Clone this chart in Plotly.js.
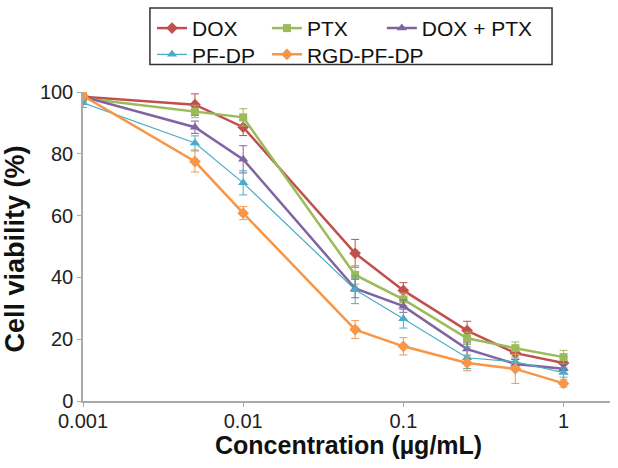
<!DOCTYPE html>
<html>
<head>
<meta charset="utf-8">
<script src="https://cdn.plot.ly/plotly-3.0.1.min.js"></script>
<style>
  body { margin: 0; background: #fff; }
  #plot { width: 618px; height: 468px; }
</style>
</head>
<body>
<div id="plot"></div>
<script>
let conc = [0.001, 0.005, 0.01, 0.05, 0.1, 0.25, 0.5, 1];

let dox = [98.5, 95.9, 88.6, 47.8, 35.8, 22.8, 15.5, 12.3];
let doxErr = [1, 3.5, 2.7, 4.5, 2.5, 3, 2, 2];

let ptx = [98, 93.7, 91.8, 40.8, 32.9, 20.3, 17.1, 14.2];
let ptxErr = [1, 2, 2.8, 3, 2, 2, 2, 2.2];

let doxPtx = [98.5, 88.6, 78.2, 36.4, 30.7, 16.8, 12, 10.4];
let doxPtxErr = [1, 2, 4.4, 3, 2, 2, 1.5, 1.5];

let pfdp = [96.5, 83.5, 70.6, 36, 26.6, 14, 12.7, 9.2];
let pfdpErr = [1.5, 2.3, 3.9, 4.5, 3, 3.5, 1.5, 1.5];

let rgd = [98.8, 77.5, 60.8, 23.1, 17.7, 12.3, 10.4, 5.7];
let rgdErr = [1, 3.4, 2.1, 2.9, 2.8, 2.5, 4.7, 1.2];

let xTicks = [0.001, 0.01, 0.1, 1];
let xTickText = ['0.001', '0.01', '0.1', '1'];

function series(name, y, err, color, symbol, size, width, legend) {
    return {
        x: conc,
        y: y,
        name: name,
        type: 'scatter',
        mode: 'lines+markers',
        legend: legend,
        line: { color: color, width: width },
        marker: { color: color, symbol: symbol, size: size },
        error_y: { type: 'data', array: err, visible: true, color: color, thickness: 1, width: 4 }
    };
}

let traces = [
    series('DOX', dox, doxErr, '#c0504d', 'diamond', 9, 2.5, 'legend'),
    series('PTX', ptx, ptxErr, '#9bbb59', 'square', 8, 2.5, 'legend2'),
    series('DOX + PTX', doxPtx, doxPtxErr, '#8064a2', 'triangle-up', 9, 2.5, 'legend3'),
    series('PF-DP', pfdp, pfdpErr, '#4bacc6', 'triangle-up', 9, 1.2, 'legend4'),
    series('RGD-PF-DP', rgd, rgdErr, '#f79646', 'diamond', 9, 2.5, 'legend5')
];

let fontFamily = 'Arial, Liberation Sans, sans-serif';

// one legend box per entry so the columns line up like the original
function legendAt(x, y) {
    return {
        orientation: 'h',
        x: x, xanchor: 'left',
        y: y, yanchor: 'top',
        font: { family: fontFamily, size: 21, color: '#111' },
        bgcolor: 'rgba(0,0,0,0)',
        borderwidth: 0,
        itemwidth: 30
    };
}

let axisStyle = {
    showgrid: false,
    zeroline: false,
    showline: true,
    linecolor: '#aaa',
    linewidth: 1.5,
    ticks: 'outside',
    ticklen: 4,
    tickcolor: '#aaa',
    tickfont: { size: 20, color: '#222' }
};

let layout = {
    width: 618,
    height: 468,
    margin: { l: 83, r: 8, t: 85, b: 67 },
    paper_bgcolor: '#fff',
    plot_bgcolor: '#fff',
    showlegend: true,
    font: { family: fontFamily, size: 20, color: '#222' },
    xaxis: Object.assign({
        type: 'log',
        range: [-3, 0.29],
        tickvals: xTicks,
        ticktext: xTickText,
        ticklabelstandoff: -3
    }, axisStyle),
    yaxis: Object.assign({
        range: [0, 100],
        dtick: 20
    }, axisStyle),
    legend: legendAt(0.131, 1.272),
    legend2: legendAt(0.349, 1.272),
    legend3: legendAt(0.567, 1.272),
    legend4: legendAt(0.131, 1.187),
    legend5: legendAt(0.349, 1.187),
    annotations: [
        {
            text: '<b>Concentration (µg/mL)</b>',
            xref: 'paper', yref: 'paper',
            x: 0.503, y: -0.142,
            xanchor: 'center', yanchor: 'middle',
            showarrow: false,
            font: { size: 25, color: '#111' }
        },
        {
            text: '<b>Cell viability (%)</b>',
            xref: 'paper', yref: 'paper',
            x: -0.129, y: 0.49,
            xanchor: 'center', yanchor: 'middle',
            textangle: -90,
            showarrow: false,
            font: { size: 27, color: '#111' }
        }
    ],
    shapes: [{
        type: 'rect', xref: 'paper', yref: 'paper',
        x0: 0.127, x1: 0.89, y0: 1.089, y1: 1.272,
        line: { color: '#333', width: 1.5 }
    }]
};

Plotly.newPlot('plot', traces, layout, { displayModeBar: false });
</script>
</body>
</html>
